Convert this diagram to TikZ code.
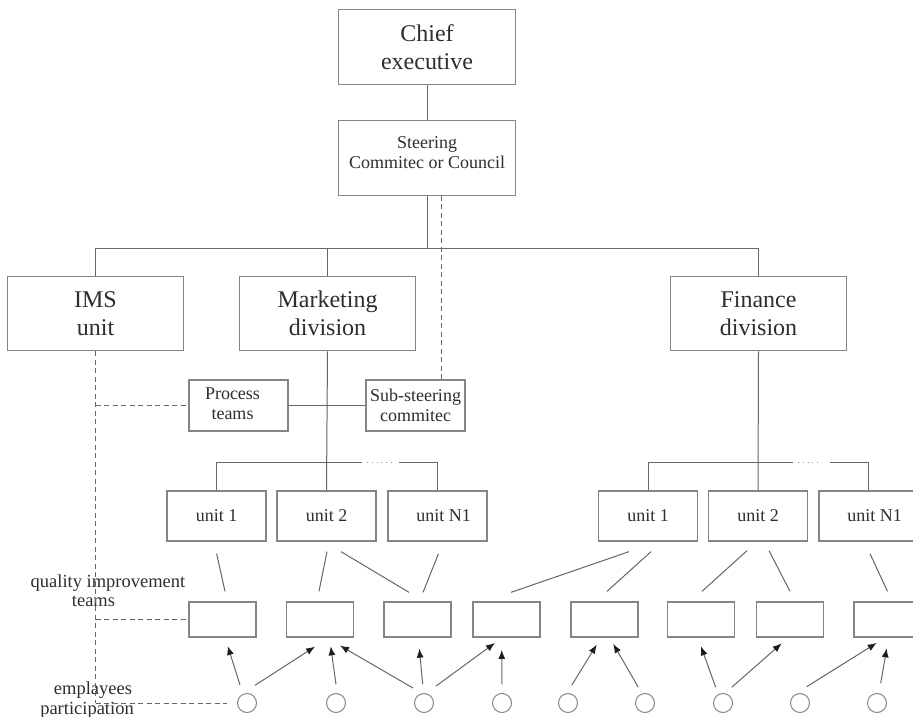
\documentclass[tikz,border=0pt]{standalone}
\usepackage{fontspec}
\setmainfont{Liberation Serif}
\usetikzlibrary{arrows.meta,calc}

\definecolor{ink}{HTML}{2E2E2E}
\definecolor{frame}{HTML}{858585}
\definecolor{wirec}{HTML}{666666}
\definecolor{headc}{HTML}{1E1E1E}

\tikzset{
  box/.style={draw=frame, line width=1.3pt, inner sep=0pt, align=center, text=ink},
  bigbox/.style={box, minimum width=176.5pt, minimum height=74.5pt,
                 font=\fontsize{24}{27.5}\selectfont},
  midbox/.style={box, minimum width=99pt, minimum height=51pt,
                 font=\fontsize{18}{20}\selectfont},
  unitbox/.style={box, minimum width=99pt, minimum height=50pt,
                  font=\fontsize{18}{20}\selectfont},
  teambox/.style={box, minimum width=67pt, minimum height=35pt},
  person/.style={circle, draw=frame, line width=1pt, minimum size=19pt, inner sep=0pt},
  boxtext/.style={inner sep=0pt, align=center, text=ink, font=\fontsize{18}{20}\selectfont},
  wire/.style={draw=wirec, line width=1pt},
  link/.style={wire, dash pattern=on 5pt off 3.5pt},
  push/.style={wire, -{Latex[length=9pt,width=7pt,color=headc]}},
  gapdots/.style={draw=wirec!70, line width=0.9pt, dash pattern=on 0.9pt off 3.9pt},
  sidelabel/.style={anchor=base, inner sep=0pt, text=ink,
                    font=\fontsize{18.5}{20}\selectfont},
}

\begin{document}
\begin{tikzpicture}[x=1pt,y=-1pt]
\useasboundingbox (0,0) rectangle (913,717);
\fill[white] (0,0) rectangle (913,717);
\clip (0,0) rectangle (913,717);

% top of the hierarchy
\node[bigbox] (chief) at (427,47) {Chief\\executive};
\node[bigbox] (steer) at (427,158) {};
\node[boxtext] (steertext) at (427,153) {Steering\\Commitec or Council};

% divisions
\node[bigbox] (ims) at (95.5,313.5) {IMS\\unit};
\node[bigbox] (mkt) at (327.5,313.5) {Marketing\\division};
\node[bigbox] (fin) at (758.5,313.5) {Finance\\division};

% process teams and sub-steering committee
\node[midbox] (proc) at (238.5,405.5) {};
\node[boxtext] (proctext) at (232.5,404) {Process\\teams};
\node[midbox] (sub) at (415.5,405.5) {Sub-steering\\commitec};

% units
\node[unitbox] (mu1) at (216.5,516) {unit 1};
\node[unitbox] (mu2) at (326.5,516) {unit 2};
\node[unitbox] (mu3) at (437.5,516) {};
\node[boxtext] (mu3text) at (443.5,516) {unit N1};
\node[unitbox] (fu1) at (648,516) {unit 1};
\node[unitbox] (fu2) at (758,516) {unit 2};
\node[unitbox] (fu3) at (868.5,516) {};
\node[boxtext] (fu3text) at (874.5,516) {unit N1};

% quality improvement teams
\foreach \i/\x in {1/222.5,2/320,3/417.5,4/506.5,5/604.5,6/701,7/790,8/887.5}
  \node[teambox] (q\i) at (\x,619.5) {};

% employees
\foreach \i/\x in {1/247,2/336,3/424,4/502,5/568,6/645,7/723,8/800,9/877}
  \node[person] (e\i) at (\x,703) {};

% side labels
\node[sidelabel] (qlab1) at (108,587.3) {quality improvement};
\node[sidelabel] (qlab2) at (93.5,606.7) {teams};
\node[sidelabel] (elab1) at (93,694) {emplayees};
\node[sidelabel] (elab2) at (87,714) {participation};

% main tree
\coordinate (bus) at (427,248);
\draw[wire] (chief) -- (steer);
\draw[wire] (steer.south) -- (steer.south |- bus);
\draw[wire] (ims.north) -- (ims.north |- bus) -- (fin.north |- bus) -- (fin.north);
\draw[wire] (mkt.north) -- (mkt.north |- bus);

% steering to sub-steering (dashed)
\draw[link] ([xshift=14pt]steer.south) -- ([xshift=14pt]steer.south |- sub.north);

% process teams to sub-steering
\draw[wire] (proc.east) -- (sub.west);

% marketing units
\coordinate (mgapL) at (362,462);
\coordinate (mgapR) at (398.5,462);
\draw[wire] (mkt.south) -- (mu2.north);
\draw[wire] (mu1.north) -- (mu1.north |- mgapL) -- (mgapL);
\draw[wire] (mgapR) -- (mu3.north |- mgapR) -- (mu3.north);
\draw[gapdots] ([xshift=5pt]mgapL) -- ([xshift=-6pt]mgapR);

% finance units
\coordinate (fgapL) at (793,462);
\coordinate (fgapR) at (830,462);
\draw[wire] (fin.south) -- (fu2.north);
\draw[wire] (fu1.north) -- (fu1.north |- fgapL) -- (fgapL);
\draw[wire] (fgapR) -- (fu3.north |- fgapR) -- (fu3.north);
\draw[gapdots] ([xshift=5pt]fgapL) -- ([xshift=-8pt]fgapR);

% IMS unit links (dashed)
\draw[link] (ims.south) -- (ims.south |- e1);
\draw[link] (ims.south |- proc) -- (proc.west);
\draw[link] (ims.south |- q1) -- (q1.west);
\draw[link, shorten >=10pt] (ims.south |- e1) -- (e1.west);

% units to quality improvement teams
\draw[wire] ([shift={(0.1,12)}]mu1.south) -- ([shift={(2.5,-10)}]q1.north);
\draw[wire] ([shift={(0.5,10)}]mu2.south) -- ([shift={(-1,-10)}]q2.north);
\draw[wire] ([shift={(14.5,10)}]mu2.south) -- ([shift={(-8.5,-9)}]q3.north);
\draw[wire] ([shift={(1,12)}]mu3.south) -- ([shift={(5.5,-9)}]q3.north);
\draw[wire] ([shift={(-19,10)}]fu1.south) -- ([shift={(4.5,-9)}]q4.north);
\draw[wire] ([shift={(3,10)}]fu1.south) -- ([shift={(2.5,-10)}]q5.north);
\draw[wire] ([shift={(-11,9)}]fu2.south) -- ([shift={(1,-10)}]q6.north);
\draw[wire] ([shift={(11,9)}]fu2.south) -- ([shift={(0,-10)}]q7.north);
\draw[wire] ([shift={(1.5,12)}]fu3.south) -- ([shift={(0,-10)}]q8.north);

% employee participation arrows
\draw[push] ([shift={(-7,-18)}]e1.center) -- ([shift={(5.2,8.3)}]q1.south);
\draw[push] ([shift={(8,-17.7)}]e1.center) -- ([shift={(-5,9)}]q2.south);
\draw[push] ([shift={(0,-18.7)}]e2.center) -- ([shift={(10.7,8.7)}]q2.south);
\draw[push] ([shift={(-11,-15)}]e3.center) -- ([shift={(20,8)}]q2.south);
\draw[push] ([shift={(-1.3,-19)}]e3.center) -- ([shift={(1.8,11)}]q3.south);
\draw[push] ([shift={(12,-17)}]e3.center) -- ([shift={(-11.5,5.3)}]q4.south);
\draw[push] ([shift={(0,-18.7)}]e4.center) -- ([shift={(-4.8,12.3)}]q4.south);
\draw[push] ([shift={(3.7,-17.7)}]e5.center) -- ([shift={(-7.8,7)}]q5.south);
\draw[push] ([shift={(-6.7,-15.7)}]e6.center) -- ([shift={(8.8,6.3)}]q5.south);
\draw[push] ([shift={(-7.3,-15.7)}]e7.center) -- ([shift={(0,8.7)}]q6.south);
\draw[push] ([shift={(8.7,-15.7)}]e7.center) -- ([shift={(-8.3,5.7)}]q7.south);
\draw[push] ([shift={(6.7,-16.3)}]e8.center) -- ([shift={(-10.8,5.3)}]q8.south);
\draw[push] ([shift={(3.7,-19.7)}]e9.center) -- ([shift={(-0.8,10.7)}]q8.south);
\end{tikzpicture}
\end{document}
